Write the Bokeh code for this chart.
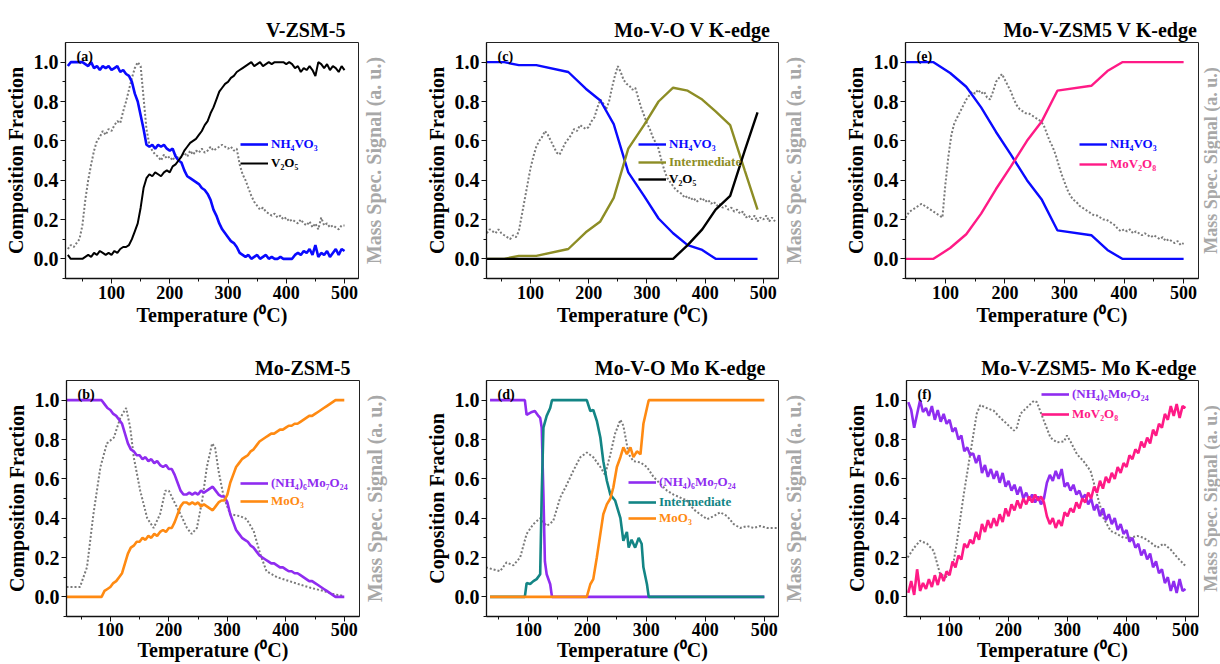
import math
from bokeh.plotting import figure
from bokeh.models import (Range1d, FixedTicker, PrintfTickFormatter,
                          Legend, LegendItem, Label)
from bokeh.core.properties import value
from bokeh.layouts import column, row
from bokeh.embed import file_html
from bokeh.resources import INLINE

FONT = "Liberation Serif"

# ---------------- data ----------------
# temperature grids (deg C)
T_a = list(range(25, 505, 5))      # panels (a), (b)
T_c_ms = list(range(25, 525, 5))   # mass spec (c)
T_e_ms = list(range(30, 505, 5))   # mass spec (e)
T_f = list(range(30, 505, 5))      # panel (f)

# (a) V-ZSM-5
a_nh4vo3 = [0.98, 1.00, 1.00, 1.00, 1.00, 1.00, 0.99, 0.98, 1.00, 0.97,
            0.98, 0.96, 0.98, 0.97, 0.98, 0.96, 0.97, 0.98, 0.95, 0.96,
            0.94, 0.93, 0.90, 0.84, 0.80, 0.73, 0.66, 0.58, 0.57, 0.58,
            0.56, 0.58, 0.57, 0.58, 0.56, 0.55, 0.56, 0.52, 0.50, 0.49,
            0.45, 0.42, 0.41, 0.40, 0.39, 0.38, 0.36, 0.35, 0.33, 0.30,
            0.25, 0.22, 0.18, 0.15, 0.13, 0.11, 0.09, 0.08, 0.06, 0.03,
            0.02, 0.01, 0.02, 0.00, 0.01, 0.02, 0.00, 0.01, 0.02, 0.00,
            0.01, 0.00, 0.00, 0.01, 0.00, 0.00, 0.00, 0.00, 0.02, 0.03,
            0.02, 0.04, 0.03, 0.05, 0.02, 0.07, 0.01, 0.03, 0.02, 0.04,
            0.01, 0.03, 0.05, 0.02, 0.05, 0.04]
a_v2o5 = [0.02, 0.00, 0.00, 0.00, 0.00, 0.00, 0.01, 0.02, 0.01, 0.03,
          0.02, 0.04, 0.03, 0.02, 0.03, 0.02, 0.04, 0.03, 0.05, 0.06,
          0.06, 0.07, 0.10, 0.14, 0.18, 0.26, 0.36, 0.41, 0.43, 0.42,
          0.44, 0.43, 0.42, 0.44, 0.45, 0.44, 0.47, 0.48, 0.50, 0.52,
          0.55, 0.57, 0.59, 0.60, 0.61, 0.63, 0.65, 0.68, 0.70, 0.74,
          0.77, 0.81, 0.85, 0.87, 0.89, 0.90, 0.92, 0.93, 0.95, 0.96,
          0.97, 0.98, 0.99, 1.00, 0.98, 0.99, 1.00, 0.98, 0.99, 1.00,
          0.99, 1.00, 1.00, 1.00, 1.00, 0.99, 1.00, 0.99, 0.97, 0.98,
          0.95, 0.97, 0.96, 0.98, 0.96, 0.93, 1.00, 0.99, 0.97, 0.99,
          0.96, 0.98, 0.97, 0.95, 0.98, 0.96]
a_ms = [0.05, 0.07, 0.06, 0.08, 0.10, 0.17, 0.30, 0.40, 0.48, 0.55,
        0.60, 0.62, 0.65, 0.63, 0.66, 0.65, 0.68, 0.70, 0.69, 0.75,
        0.80, 0.86, 0.92, 0.97, 1.00, 0.98, 0.82, 0.66, 0.58, 0.55,
        0.53, 0.52, 0.50, 0.53, 0.51, 0.52, 0.50, 0.53, 0.51, 0.52,
        0.54, 0.52, 0.55, 0.53, 0.55, 0.54, 0.56, 0.54, 0.55, 0.57,
        0.55, 0.56, 0.57, 0.58, 0.57, 0.56, 0.57, 0.55, 0.56, 0.48,
        0.43, 0.40, 0.36, 0.32, 0.29, 0.27, 0.25, 0.26, 0.24, 0.23,
        0.22, 0.23, 0.21, 0.22, 0.20, 0.21, 0.19, 0.20, 0.19, 0.18,
        0.20, 0.18, 0.17, 0.19, 0.16, 0.18, 0.15, 0.21, 0.17, 0.18,
        0.16, 0.17, 0.16, 0.15, 0.17, 0.17]

# (b) Mo-ZSM-5
b_ahm = [1.00, 1.00, 1.00, 1.00, 1.00, 1.00, 1.00, 1.00, 1.00, 1.00,
         1.00, 1.00, 1.00, 0.98, 0.96, 0.95, 0.93, 0.92, 0.90, 0.88,
         0.83, 0.78, 0.75, 0.74, 0.72, 0.72, 0.70, 0.71, 0.69, 0.70,
         0.68, 0.69, 0.67, 0.66, 0.67, 0.65, 0.65, 0.62, 0.58, 0.54,
         0.52, 0.52, 0.53, 0.52, 0.53, 0.52, 0.54, 0.53, 0.54, 0.55,
         0.56, 0.54, 0.52, 0.51, 0.51, 0.48, 0.42, 0.38, 0.34, 0.32,
         0.30, 0.29, 0.28, 0.26, 0.25, 0.23, 0.21, 0.20, 0.19, 0.18,
         0.17, 0.17, 0.16, 0.15, 0.15, 0.14, 0.13, 0.13, 0.12, 0.12,
         0.11, 0.10, 0.09, 0.08, 0.08, 0.07, 0.06, 0.05, 0.04, 0.03,
         0.02, 0.01, 0.00, 0.00, 0.00, 0.00]
b_moo3 = [0.00, 0.00, 0.00, 0.00, 0.00, 0.00, 0.00, 0.00, 0.00, 0.00,
          0.00, 0.00, 0.00, 0.03, 0.04, 0.05, 0.07, 0.08, 0.10, 0.12,
          0.17, 0.22, 0.25, 0.26, 0.28, 0.28, 0.30, 0.29, 0.31, 0.30,
          0.32, 0.31, 0.33, 0.34, 0.33, 0.35, 0.35, 0.38, 0.42, 0.46,
          0.48, 0.48, 0.47, 0.48, 0.47, 0.48, 0.46, 0.47, 0.46, 0.45,
          0.44, 0.46, 0.48, 0.49, 0.49, 0.52, 0.58, 0.62, 0.66, 0.68,
          0.70, 0.71, 0.72, 0.74, 0.75, 0.77, 0.79, 0.80, 0.81, 0.82,
          0.83, 0.83, 0.84, 0.85, 0.85, 0.86, 0.87, 0.87, 0.88, 0.88,
          0.89, 0.90, 0.91, 0.92, 0.92, 0.93, 0.94, 0.95, 0.96, 0.97,
          0.98, 0.99, 1.00, 1.00, 1.00, 1.00]
b_ms_T = [25, 48, 60, 71, 83, 94, 106, 117, 127, 134, 140, 151, 163, 174, 185,
          194, 200, 208, 220, 231, 239, 248, 257, 265, 274, 279, 285, 294, 305,
          322, 333, 345, 356, 367, 385, 413, 441, 464, 481, 498]
b_ms = [0.05, 0.05, 0.15, 0.42, 0.66, 0.78, 0.81, 0.91, 0.96, 0.86, 0.71, 0.54,
        0.40, 0.35, 0.42, 0.54, 0.54, 0.49, 0.42, 0.35, 0.32, 0.35, 0.49, 0.66,
        0.78, 0.76, 0.64, 0.505, 0.42, 0.41, 0.395, 0.335, 0.22, 0.13, 0.10,
        0.073, 0.047, 0.03, 0.014, 0.005]

# (c) Mo-V-O V K-edge
c_T = [25, 55, 80, 110, 165, 195, 220, 243, 268, 295, 320, 345, 370, 395, 418, 443, 468, 490]
c_nh4vo3 = [1.0, 1.0, 0.985, 0.985, 0.95, 0.865, 0.805, 0.685, 0.44, 0.32, 0.205,
            0.13, 0.07, 0.045, 0.0, 0.0, 0.0, 0.0]
c_inter = [0.0, 0.0, 0.015, 0.015, 0.05, 0.135, 0.19, 0.31, 0.56, 0.68, 0.80,
           0.87, 0.855, 0.81, 0.75, 0.68, 0.45, 0.25]
c_v2o5 = [0.0, 0.0, 0.0, 0.0, 0.0, 0.0, 0.0, 0.0, 0.0, 0.0, 0.0, 0.0,
          0.07, 0.15, 0.25, 0.32, 0.55, 0.745]
c_ms = [0.13, 0.15, 0.14, 0.13, 0.15, 0.13, 0.12, 0.11, 0.10, 0.12,
        0.11, 0.14, 0.22, 0.30, 0.38, 0.46, 0.52, 0.57, 0.60, 0.62,
        0.65, 0.63, 0.60, 0.57, 0.54, 0.53, 0.56, 0.59, 0.61, 0.63,
        0.66, 0.65, 0.68, 0.67, 0.66, 0.67, 0.70, 0.72, 0.77, 0.81,
        0.79, 0.76, 0.80, 0.87, 0.93, 0.98, 0.95, 0.91, 0.89, 0.88,
        0.86, 0.87, 0.82, 0.77, 0.73, 0.69, 0.66, 0.62, 0.59, 0.56,
        0.50, 0.45, 0.41, 0.39, 0.37, 0.35, 0.34, 0.33, 0.31, 0.32,
        0.30, 0.31, 0.29, 0.30, 0.31, 0.29, 0.30, 0.28, 0.29, 0.27,
        0.28, 0.26, 0.27, 0.25, 0.26, 0.24, 0.25, 0.23, 0.24, 0.21,
        0.22, 0.20, 0.22, 0.19, 0.21, 0.20, 0.22, 0.19, 0.21, 0.19]

# (d) Mo-V-O Mo K-edge
d_ahm_T = [35, 94, 97, 106, 111, 117, 120, 122.6, 125.5, 128, 131, 137, 140, 500]
d_ahm = [1.0, 1.0, 0.925, 0.94, 0.945, 0.92, 0.91, 0.86, 0.52, 0.18, 0.115, 0.064, 0.0, 0.0]
d_int_T = [35, 94, 97, 103, 108.5, 114, 120, 122.6, 125.5, 131, 137, 140, 199, 205,
           210, 216, 222, 227, 233, 239, 247, 256, 261, 267, 270, 275, 281, 287,
           292, 295, 301, 304, 500]
d_int = [0.0, 0.0, 0.07, 0.065, 0.08, 0.09, 0.115, 0.52, 0.86, 0.92, 0.96, 1.0, 1.0,
         0.945, 0.95, 0.895, 0.81, 0.69, 0.59, 0.52, 0.49, 0.40, 0.285, 0.33, 0.25,
         0.29, 0.25, 0.30, 0.27, 0.15, 0.064, 0.0, 0.0]
d_moo3_T = [35, 199, 205, 210, 216, 222, 227, 233, 239, 244, 250, 256, 261, 267,
            273, 278, 284, 290, 295, 301, 304, 500]
d_moo3 = [0.0, 0.0, 0.064, 0.09, 0.2, 0.32, 0.42, 0.47, 0.50, 0.556, 0.66, 0.71,
          0.76, 0.725, 0.76, 0.71, 0.74, 0.725, 0.88, 0.96, 1.0, 1.0]
d_ms_T = [28, 40, 52, 63, 74.5, 86, 97, 108.5, 120, 131, 142, 154, 165, 176, 188,
          199, 210, 222, 230, 239, 247, 256, 261, 270, 278, 290, 301, 312, 324,
          335, 346, 357, 369, 380, 391, 403, 414, 425, 437, 448, 459, 471, 482,
          493, 505, 522]
d_ms = [0.15, 0.14, 0.13, 0.175, 0.16, 0.20, 0.32, 0.37, 0.40, 0.36, 0.385, 0.505,
        0.57, 0.64, 0.71, 0.734, 0.71, 0.66, 0.62, 0.725, 0.83, 0.90, 0.87, 0.725,
        0.69, 0.683, 0.66, 0.61, 0.573, 0.54, 0.52, 0.505, 0.49, 0.445, 0.42,
        0.395, 0.41, 0.43, 0.41, 0.37, 0.35, 0.36, 0.35, 0.36, 0.35, 0.35]

# (e) Mo-V-ZSM5 V K-edge
e_T = [33, 80, 108, 135, 160, 185, 210, 237, 262, 288, 345, 372, 397, 420, 500]
e_nh4vo3 = [1.0, 1.0, 0.945, 0.875, 0.77, 0.645, 0.53, 0.40, 0.30, 0.145, 0.12,
            0.045, 0.0, 0.0, 0.0]
e_mov2o8 = [0.0, 0.0, 0.055, 0.125, 0.23, 0.355, 0.47, 0.60, 0.70, 0.855, 0.88,
            0.955, 1.0, 1.0, 1.0]
e_ms = [0.19, 0.22, 0.24, 0.25, 0.26, 0.27, 0.28, 0.27, 0.26, 0.25,
        0.24, 0.23, 0.22, 0.21, 0.38, 0.52, 0.63, 0.69, 0.72, 0.75,
        0.78, 0.81, 0.83, 0.85, 0.84, 0.86, 0.84, 0.85, 0.82, 0.81,
        0.85, 0.90, 0.92, 0.94, 0.91, 0.88, 0.85, 0.81, 0.78, 0.76,
        0.75, 0.74, 0.74, 0.73, 0.72, 0.71, 0.70, 0.68, 0.64, 0.60,
        0.57, 0.53, 0.48, 0.43, 0.39, 0.35, 0.32, 0.30, 0.29, 0.27,
        0.26, 0.25, 0.24, 0.23, 0.22, 0.22, 0.21, 0.20, 0.20, 0.19,
        0.18, 0.17, 0.15, 0.14, 0.15, 0.14, 0.15, 0.13, 0.14, 0.13,
        0.12, 0.13, 0.12, 0.11, 0.12, 0.11, 0.10, 0.11, 0.09, 0.10,
        0.09, 0.08, 0.09, 0.07, 0.08]

# (f) Mo-V-ZSM5- Mo K-edge
f_ahm = [0.99, 0.95, 0.86, 0.93, 1.00, 0.94, 0.96, 0.92, 0.97, 0.90,
         0.95, 0.89, 0.93, 0.88, 0.90, 0.84, 0.86, 0.80, 0.82, 0.74,
         0.76, 0.72, 0.73, 0.68, 0.72, 0.63, 0.67, 0.61, 0.65, 0.60,
         0.64, 0.58, 0.63, 0.56, 0.59, 0.54, 0.57, 0.52, 0.56, 0.50,
         0.53, 0.49, 0.52, 0.48, 0.51, 0.47, 0.50, 0.58, 0.62, 0.59,
         0.64, 0.60, 0.65, 0.56, 0.58, 0.54, 0.57, 0.52, 0.54, 0.50,
         0.52, 0.47, 0.50, 0.44, 0.47, 0.41, 0.45, 0.39, 0.42, 0.37,
         0.40, 0.34, 0.37, 0.32, 0.34, 0.28, 0.30, 0.25, 0.27, 0.21,
         0.24, 0.19, 0.22, 0.15, 0.18, 0.12, 0.14, 0.07, 0.10, 0.03,
         0.08, 0.02, 0.09, 0.03, 0.04]
f_mov2o8 = [0.02, 0.08, 0.01, 0.14, 0.03, 0.07, 0.04, 0.09, 0.05, 0.11,
            0.06, 0.12, 0.08, 0.13, 0.11, 0.18, 0.15, 0.21, 0.19, 0.27,
            0.25, 0.29, 0.27, 0.33, 0.29, 0.37, 0.33, 0.39, 0.35, 0.40,
            0.36, 0.42, 0.38, 0.45, 0.41, 0.47, 0.44, 0.49, 0.45, 0.50,
            0.47, 0.51, 0.48, 0.52, 0.49, 0.51, 0.48, 0.41, 0.37, 0.40,
            0.35, 0.39, 0.36, 0.43, 0.41, 0.45, 0.43, 0.48, 0.45, 0.50,
            0.48, 0.53, 0.50, 0.56, 0.53, 0.59, 0.55, 0.61, 0.58, 0.63,
            0.60, 0.66, 0.63, 0.68, 0.66, 0.72, 0.70, 0.75, 0.73, 0.79,
            0.76, 0.81, 0.78, 0.85, 0.82, 0.88, 0.86, 0.93, 0.90, 0.97,
            0.92, 0.98, 0.91, 0.97, 0.96]
f_ms_T = [29, 40, 50, 62, 73, 84, 96, 107, 112, 124, 135, 146, 152, 163, 175, 186,
          197, 209, 214, 220, 231, 243, 248, 260, 271, 282, 294, 299, 305, 316,
          327, 339, 350, 361, 373, 384, 395, 407, 418, 429, 441, 452, 463, 475,
          486, 497, 500]
f_ms = [0.20, 0.25, 0.285, 0.27, 0.234, 0.115, 0.10, 0.18, 0.27, 0.52, 0.725, 0.93,
        0.975, 0.96, 0.946, 0.91, 0.88, 0.845, 0.86, 0.93, 0.963, 0.997, 0.99,
        0.895, 0.81, 0.785, 0.79, 0.82, 0.79, 0.725, 0.69, 0.64, 0.52, 0.40,
        0.335, 0.32, 0.30, 0.30, 0.31, 0.30, 0.276, 0.25, 0.27, 0.24, 0.20,
        0.166, 0.157]

x_ticks = [100, 200, 300, 400, 500]
x_minor = [50, 150, 250, 350, 450]
y_ticks = [0.0, 0.2, 0.4, 0.6, 0.8, 1.0]
y_minor = [-0.1, 0.1, 0.3, 0.5, 0.7, 0.9]

BLUE = "#0a0aff"
BLACK = "#000000"
OLIVE = "#8d8d25"
PURPLE = "#8f2cf0"
ORANGE = "#ff8a12"
TEAL = "#138585"
PINK = "#ff1a86"
MSGRAY = "#7a7a7a"
LABELGRAY = "#a8a8a8"


def style_axis(ax, tick_size):
    ax.major_label_text_font = FONT
    ax.major_label_text_font_style = "bold"
    ax.major_label_text_font_size = tick_size
    ax.major_label_text_color = "black"
    ax.axis_label_text_font = FONT
    ax.axis_label_text_font_style = "bold"
    ax.axis_label_text_font_size = "20px"
    ax.axis_label_text_color = "black"
    ax.axis_line_color = "#111111"
    ax.axis_line_width = 1.3
    ax.major_tick_line_color = "#111111"
    ax.minor_tick_line_color = "#111111"
    ax.major_tick_out = 5
    ax.major_tick_in = 0
    ax.minor_tick_out = 3
    ax.minor_tick_in = 0


def make_panel(title, tag, xr, w, h, bl, br, bt, bb, ylabel, toff, tstand,
               series, ms_T, ms_v, leg_x, leg_y, bottom_row):
    fh = h - bt - bb
    p = figure(width=w, height=h, x_range=Range1d(*xr), y_range=Range1d(-0.1, 1.1),
               output_backend="svg", toolbar_location=None,
               min_border_left=bl, min_border_right=br,
               min_border_top=bt, min_border_bottom=bb, title=title)
    p.background_fill_color = "white"
    p.border_fill_color = "white"
    p.outline_line_color = "#222222"
    p.outline_line_width = 1
    p.xgrid.visible = False
    p.ygrid.visible = False

    p.title.align = "right"
    p.title.offset = toff
    p.title.standoff = tstand
    p.title.text_font = FONT
    p.title.text_font_style = "bold"
    p.title.text_font_size = "20px"
    p.title.text_color = "black"

    xa = p.xaxis[0]
    style_axis(xa, "18px")
    xa.ticker = FixedTicker(ticks=x_ticks, minor_ticks=x_minor)
    xa.axis_label = "Temperature (\u2070C)"
    xa.major_label_standoff = 1 if bottom_row else 2
    xa.axis_label_standoff = 0 if bottom_row else 2

    ya = p.yaxis[0]
    style_axis(ya, "20px")
    ya.ticker = FixedTicker(ticks=y_ticks, minor_ticks=y_minor)
    ya.formatter = PrintfTickFormatter(format="%.1f")
    ya.axis_label = ylabel
    ya.major_label_standoff = 2
    ya.axis_label_standoff = 4

    # mass spectrometer signal on its own (secondary) range
    p.extra_y_ranges = {"ms": Range1d(-0.1, 1.1)}
    p.line(ms_T, ms_v, y_range_name="ms", line_color=MSGRAY, line_width=2,
           line_dash="2 2")

    for (T, v, color, label, lw), yc in zip(series, leg_y):
        r = p.line(T, v, line_color=color, line_width=lw)
        lg = Legend(items=[LegendItem(label=value(label), renderers=[r])],
                    location=(leg_x, yc - 8), orientation="vertical",
                    glyph_width=28, glyph_height=16, label_height=16,
                    label_standoff=3, padding=0, margin=0, spacing=0,
                    border_line_color=None, background_fill_alpha=0,
                    label_text_font=FONT, label_text_font_style="bold",
                    label_text_font_size="13px", label_text_color=color)
        p.add_layout(lg)

    p.add_layout(Label(x=11, y=fh - 6, x_units="screen", y_units="screen",
                       text=tag, text_font=FONT, text_font_style="bold",
                       text_font_size="14px", text_baseline="top", text_color="black"))
    return p


def ms_axis_strip(w, h, bt, bb, size, standoff):
    """Narrow strip holding the secondary (Mass Spec.) axis label, read bottom-to-top."""
    s = figure(width=w, height=h, x_range=Range1d(0, 1), y_range=Range1d(-0.1, 1.1),
               output_backend="svg", toolbar_location=None, x_axis_location=None,
               min_border_left=w - 1, min_border_right=0,
               min_border_top=bt, min_border_bottom=bb)
    s.outline_line_color = None
    s.xgrid.visible = False
    s.ygrid.visible = False
    s.background_fill_color = "white"
    s.border_fill_color = "white"
    ax = s.yaxis[0]
    ax.ticker = FixedTicker(ticks=[])
    ax.major_tick_out = 0
    ax.major_tick_in = 0
    ax.minor_tick_out = 0
    ax.minor_tick_in = 0
    ax.major_label_standoff = 0
    ax.major_label_text_font_size = "1px"
    ax.axis_line_color = None
    ax.axis_label = "Mass Spec. Signal (a. u.)"
    ax.axis_label_text_font = FONT
    ax.axis_label_text_font_style = "bold"
    ax.axis_label_text_font_size = size
    ax.axis_label_text_color = LABELGRAY
    ax.axis_label_standoff = standoff
    return s


pa = make_panel("V-ZSM-5", "(a)", (21, 524), 359, 330, 65, 1, 42, 52,
                "Composition Fraction", 13, 4,
                [(T_a, a_nh4vo3, BLUE, "NH\u2084VO\u2083", 2.6),
                 (T_a, a_v2o5, BLACK, "V\u2082O\u2085", 2.0)],
                T_a, a_ms, 175, [134, 115], False)
pc = make_panel("Mo-V-O V K-edge", "(c)", (24.5, 526), 392, 330, 99, 1, 42, 52,
                "Composition Fraction", 8, 4,
                [(c_T, c_nh4vo3, BLUE, "NH\u2084VO\u2083", 2.4),
                 (c_T, c_inter, OLIVE, "Intermediate", 2.4),
                 (c_T, c_v2o5, BLACK, "V\u2082O\u2085", 2.4)],
                T_c_ms, c_ms, 152, [134, 116, 99], False)
pe = make_panel("Mo-V-ZSM5 V K-edge", "(e)", (33, 525), 392, 330, 98, 1, 42, 52,
                "Composition Fraction", 1, 4,
                [(e_T, e_nh4vo3, BLUE, "NH\u2084VO\u2083", 2.4),
                 (e_T, e_mov2o8, PINK, "MoV\u2082O\u2088", 2.4)],
                T_e_ms, e_ms, 174, [134, 114], False)
pb = make_panel("Mo-ZSM-5", "(b)", (25, 526), 360, 334, 66, 1, 50, 48,
                "Composition Fraction", 9, 3,
                [(T_a, b_ahm, PURPLE, "(NH\u2084)\u2086Mo\u2087O\u2082\u2084", 2.6),
                 (T_a, b_moo3, ORANGE, "MoO\u2083", 2.6)],
                b_ms_T, b_ms, 174, [133, 115], True)
pd = make_panel("Mo-V-O Mo K-edge", "(d)", (29, 524), 391, 334, 98, 1, 50, 48,
                "Coposition Fraction", 13, 3,
                [(d_ahm_T, d_ahm, PURPLE, "(NH\u2084)\u2086Mo\u2087O\u2082\u2084", 2.6),
                 (d_int_T, d_int, TEAL, "Intermediate", 2.6),
                 (d_moo3_T, d_moo3, ORANGE, "MoO\u2083", 2.6)],
                d_ms_T, d_ms, 142, [134, 114, 98], True)
pf = make_panel("Mo-V-ZSM5- Mo K-edge", "(f)", (27, 522), 392, 334, 99, 1, 50, 48,
                "Composition Fraction", 2, 3,
                [(T_f, f_ahm, PURPLE, "(NH\u2084)\u2086Mo\u2087O\u2082\u2084", 2.6),
                 (T_f, f_mov2o8, PINK, "MoV\u2082O\u2088", 2.6)],
                f_ms_T, f_ms, 135, [222, 202], True)

sa = ms_axis_strip(28, 330, 42, 52, "20px", 3)
sc = ms_axis_strip(28, 330, 42, 52, "20px", 3)
se = ms_axis_strip(21, 330, 42, 52, "18px", 0)
sb = ms_axis_strip(28, 334, 50, 48, "20px", 3)
sd = ms_axis_strip(28, 334, 50, 48, "20px", 3)
sf = ms_axis_strip(21, 334, 50, 48, "18px", 0)

layout = column(row(pa, sa, pc, sc, pe, se), row(pb, sb, pd, sd, pf, sf))
open("out.html", "w").write(file_html(layout, INLINE))
